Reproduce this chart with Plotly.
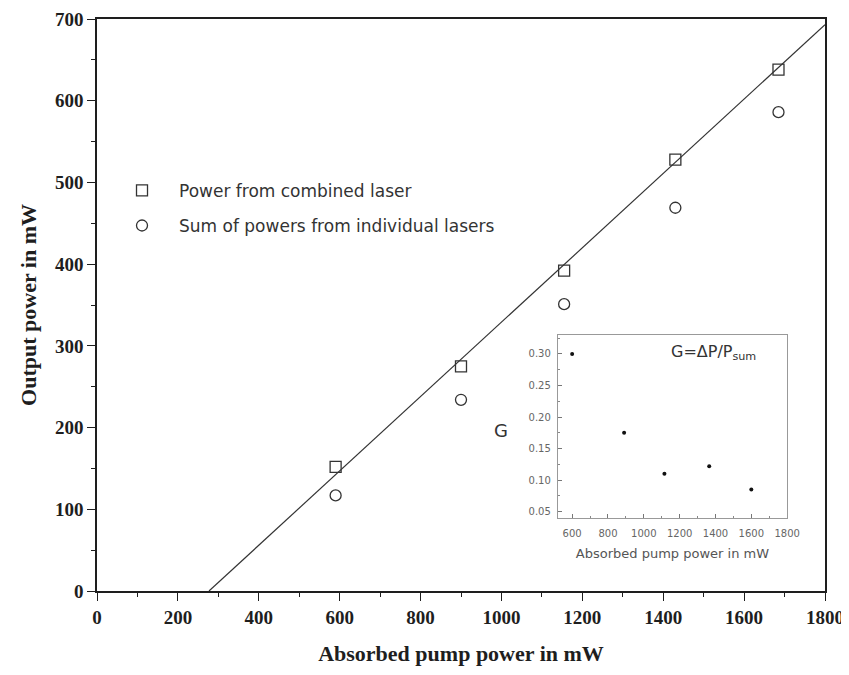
import plotly.graph_objects as go

# Main plot data
pump = [590, 900, 1155, 1430, 1685]
combined = [152, 275, 392, 528, 638]
summed = [117, 234, 351, 469, 586]
fit_x = [277, 1800]
fit_y = [0, 693]

# Inset data
g_x = [600, 890, 1115, 1365, 1600]
g_y = [0.30, 0.175, 0.11, 0.122, 0.085]

x_ticks = [0, 200, 400, 600, 800, 1000, 1200, 1400, 1600, 1800]
x_tick_text = ["0", "200", "400", "600", "800", "1000", "1200", "1400", "1600", "1800"]
y_ticks = [0, 100, 200, 300, 400, 500, 600, 700]
ix_ticks = [600, 800, 1000, 1200, 1400, 1600, 1800]
iy_ticks = [0.05, 0.10, 0.15, 0.20, 0.25, 0.30]

ink = "#1e1e1e"
serif = "Liberation Serif"
sans = "DejaVu Sans"

fig = go.Figure()
fig.add_trace(go.Scatter(x=fit_x, y=fit_y, mode="lines", line=dict(color="#333333", width=1.2),
                         showlegend=False, hoverinfo="skip"))
fig.add_trace(go.Scatter(x=pump, y=combined, mode="markers", name="Power from combined laser",
                         legendgroup="a",
                         marker=dict(symbol="square-open", size=11, color="#333333", line=dict(width=1.3))))
fig.add_trace(go.Scatter(x=pump, y=summed, mode="markers", name="Sum of powers from individual lasers",
                         legendgroup="b",
                         marker=dict(symbol="circle-open", size=11, color="#333333", line=dict(width=1.3))))
fig.add_trace(go.Scatter(x=g_x, y=g_y, mode="markers", xaxis="x2", yaxis="y2", showlegend=False,
                         marker=dict(symbol="circle", size=4, color="#111111")))

# the page body adds an 8px offset, so the figure is sized to fill the 849x675 window
fig.update_layout(
    width=841, height=667,
    margin=dict(l=89, r=16, t=11, b=84),
    paper_bgcolor="white", plot_bgcolor="white",
    showlegend=True,
    legend=dict(x=0.011, y=0.731, xanchor="left", yanchor="top", bgcolor="rgba(0,0,0,0)",
                font=dict(family=sans, size=17, color="#333333"), traceorder="grouped",
                tracegroupgap=10, itemwidth=64),
    xaxis=dict(range=[0, 1800], tickvals=x_ticks, ticktext=x_tick_text, ticks="outside", ticklen=8,
               tickwidth=1.3, tickcolor=ink, showline=True, linecolor=ink, linewidth=1.5, mirror=True,
               showgrid=False, zeroline=False, automargin=False,
               minor=dict(dtick=100, ticks="outside", ticklen=4, tickcolor=ink),
               tickfont=dict(family=serif, size=19, color=ink, weight="bold"),
               title=dict(text="<b>Absorbed pump power in mW</b>", font=dict(family=serif, size=22, color=ink),
                          standoff=19)),
    yaxis=dict(range=[0, 700], tickvals=y_ticks, ticks="outside", ticklen=8, tickwidth=1.3, tickcolor=ink,
               showline=True, linecolor=ink, linewidth=1.5, mirror=True, showgrid=False, zeroline=False,
               automargin=False,
               minor=dict(dtick=50, ticks="outside", ticklen=4, tickcolor=ink),
               tickfont=dict(family=serif, size=19, color=ink, weight="bold"),
               title=dict(text="<b>Output power in mW</b>", font=dict(family=serif, size=22, color=ink),
                          standoff=12)),
    xaxis2=dict(domain=[0.633, 0.948], anchor="y2", range=[520, 1800], tickvals=ix_ticks,
                ticks="inside", ticklen=4, tickcolor="#777777", showline=True, linecolor="#999999",
                linewidth=1, mirror=True, showgrid=False, zeroline=False, ticklabelstandoff=6,
                minor=dict(dtick=100, ticks="inside", ticklen=2, tickcolor="#888888"),
                tickfont=dict(family=sans, size=10, color="#666666"),
                title=dict(text="Absorbed pump power in mW", font=dict(family=sans, size=13, color="#555555"),
                           standoff=10)),
    yaxis2=dict(domain=[0.1276, 0.4476], anchor="x2", range=[0.04, 0.33], tickvals=iy_ticks,
                tickformat=".2f", ticks="inside", ticklen=4, tickcolor="#777777", showline=True,
                linecolor="#999999", linewidth=1, mirror=True, showgrid=False, zeroline=False,
                ticklabelstandoff=4,
                minor=dict(dtick=0.025, ticks="inside", ticklen=2, tickcolor="#888888"),
                tickfont=dict(family=sans, size=10, color="#666666")),
    annotations=[
        dict(text="G", xref="paper", yref="paper", x=(501 - 97) / 728, y=(591 - 431) / 572,
             xanchor="center", yanchor="middle",
             showarrow=False, font=dict(family=sans, size=18, color="#333333")),
        dict(text="G=ΔP/P<sub>sum</sub>", xref="paper", yref="paper", x=(713 - 97) / 728,
             y=(591 - 352) / 572, xanchor="center", yanchor="middle",
             showarrow=False, font=dict(family=sans, size=16, color="#333333")),
    ],
)

fig.write_html("out.html")
